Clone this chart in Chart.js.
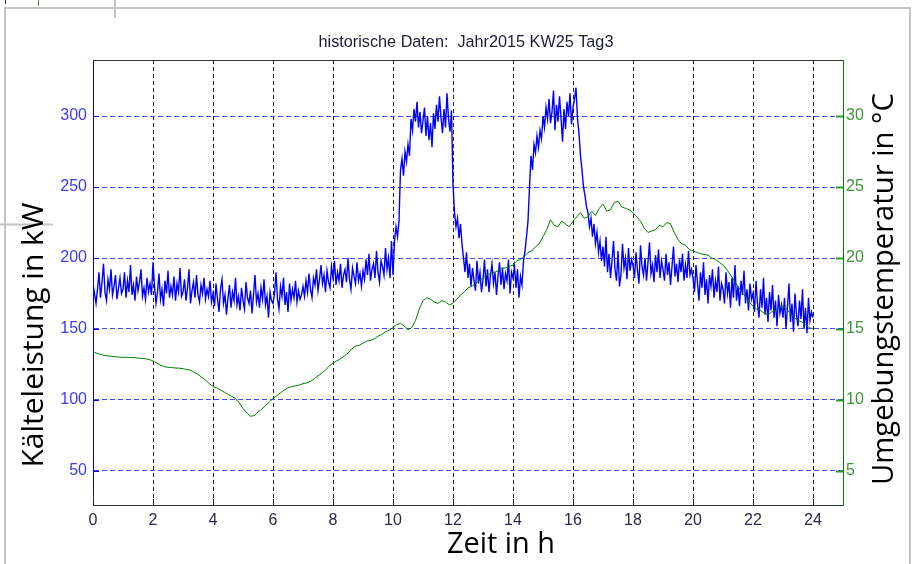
<!DOCTYPE html>
<html>
<head>
<meta charset="utf-8">
<script src="https://cdn.jsdelivr.net/npm/chart.js@4"></script>
<style>
  html, body { margin: 0; padding: 0; background: #fff; }
  canvas { display: block; }
</style>
</head>
<body>
<canvas id="ch" width="913" height="564"></canvas>
<script>
// Kälteleistung in kW, one value every 0.05 h (3 min), 0 h .. 24 h
const LOAD_STEP_H = 0.05;
const loadKW = [
  182,175,168,178,190,172,183,196,176,170,185,178,192,174,180,188,171,179,186,175,
  178,190,172,184,176,195,174,181,170,187,177,183,192,173,179,171,186,176,182,174,
  197,180,168,176,189,171,178,166,184,175,191,172,180,174,187,170,182,176,193,173,
  176,185,170,179,192,168,177,183,172,188,174,169,181,175,186,171,178,173,184,169,
  175,166,182,171,162,178,185,168,174,160,172,181,165,176,170,186,167,173,163,179,
  170,164,183,172,168,177,161,174,188,169,175,165,179,171,185,167,173,158,176,170,
  168,175,190,171,164,180,173,186,167,176,162,182,170,178,172,184,169,177,171,174,
  180,173,184,176,189,178,172,186,181,192,177,185,195,182,188,176,191,183,179,194,
  186,198,181,190,184,196,179,188,192,183,200,185,178,193,187,182,197,184,189,180,
  191,185,199,188,203,184,192,196,186,205,190,183,198,194,188,207,192,200,186,212,
  188,212,222,215,226,262,270,258,275,268,280,272,298,290,305,296,310,292,303,288,
  297,306,286,300,283,295,278,302,291,308,296,314,299,288,305,292,316,298,289,304,
  252,232,222,228,214,224,210,200,190,204,186,196,180,193,184,177,198,182,190,176,
  185,199,180,192,176,188,196,182,190,174,187,197,181,193,178,189,184,199,175,190,
  186,194,179,192,172,187,181,198,205,215,226,250,272,262,280,274,286,278,290,284,
  300,292,306,298,312,295,303,318,290,308,296,314,299,282,305,291,310,300,316,294,
  306,312,320,298,288,272,262,250,244,236,232,222,228,215,224,210,218,204,212,198,
  208,194,215,190,203,186,198,212,192,184,205,180,188,210,193,200,185,207,191,199,
  195,186,204,191,182,209,194,188,200,184,197,211,189,195,183,202,190,206,186,198,
  192,184,203,188,197,181,194,208,187,196,183,199,190,203,184,195,186,205,188,192,
  186,176,195,182,170,190,179,197,174,185,168,188,180,192,172,184,176,194,170,182,
  178,168,190,175,183,165,186,172,195,170,180,166,184,174,191,168,178,163,182,171,
  175,162,184,168,158,178,165,186,160,172,155,176,163,181,158,170,152,174,161,167,
  158,172,150,166,182,155,168,148,175,160,152,170,157,178,150,165,147,172,156,162,
  158
];

// Umgebungstemperatur in °C, one value every 0.125 h
const TEMP_STEP_H = 0.125;
const tempC = [
  13.4,13.3,13.2,13.15,13.1,13.07,13.05,13.02,13.0,13.0,13.0,12.98,12.95,12.93,12.9,12.85,12.75,
  12.6,12.45,12.35,12.3,12.28,12.25,12.24,12.2,12.15,12.1,11.95,11.8,11.6,11.4,11.15,10.95,
  10.85,10.7,10.55,10.4,10.25,10.1,9.8,9.4,9.1,8.85,8.9,9.15,9.35,9.6,9.85,10.1,
  10.3,10.5,10.7,10.85,10.95,11.0,11.05,11.15,11.2,11.3,11.5,11.7,11.9,12.1,12.4,12.6,
  12.75,12.9,13.1,13.3,13.6,13.8,13.85,14.0,14.15,14.2,14.3,14.5,14.6,14.8,14.9,15.1,
  15.3,15.4,15.2,14.95,15.1,15.6,16.4,17.0,17.2,17.1,16.9,16.8,17.0,16.9,16.7,16.8,
  17.1,17.4,17.6,17.9,18.0,18.2,18.4,18.6,18.8,18.9,19.0,19.1,19.3,19.3,19.4,19.5,
  19.8,19.9,20.1,20.4,20.5,20.8,21.0,21.5,22.0,22.7,22.3,22.2,22.6,22.4,22.2,22.6,
  22.9,23.2,22.8,22.9,23.3,23.0,23.5,23.8,23.3,23.4,23.9,24.0,23.6,23.5,23.4,23.2,
  22.9,22.6,22.1,21.8,21.9,22.0,22.3,22.2,22.5,22.4,21.8,21.3,21.0,20.9,20.6,20.5,
  20.4,20.3,20.25,20.2,20.0,19.9,19.7,19.5,19.2,18.8,18.4,18.0,17.6,17.3,16.9,16.6,
  16.4,16.3,16.1,16.0,16.2,16.3,16.5,16.6,16.4,16.1,15.8,15.6,15.5,15.3,15.1,15.0
];

const hourTicks = [0, 2, 4, 6, 8, 10, 12, 14, 16, 18, 20, 22, 24];
const loadTicks = [50, 100, 150, 200, 250, 300];
const tempTicks = [5, 10, 15, 20, 25, 30];

const titleText = 'historische Daten:  Jahr2015 KW25 Tag3';
const xTitle = 'Zeit in h';
const yTitle = 'Kälteleistung in kW';
const y2Title = 'Umgebungstemperatur in °C';

const BLUE = '#0000ff';
const GREEN = '#008000';
const TICK_FONT = { family: 'Arial, "Liberation Sans"', size: 16 };

let fitSize = (ctx, text, family, width) => {
    ctx.font = '100px ' + family;
    return 100 * width / ctx.measureText(text).width;
};

let deco = {
    id: 'deco',
    beforeDraw(chart) {
        let ctx = chart.ctx;
        ctx.save();
        ctx.fillStyle = '#fff';
        ctx.fillRect(0, 0, chart.width, chart.height);
        ctx.restore();
    },
    afterDraw(chart) {
        let ctx = chart.ctx;
        let a = chart.chartArea;
        let sx = chart.scales.x, sy = chart.scales.y, sy2 = chart.scales.y2;
        ctx.save();

        // window frame and stray bits of the screenshot
        ctx.strokeStyle = '#c4c4c4';
        ctx.lineWidth = 2;
        ctx.beginPath();
        ctx.moveTo(5, 564); ctx.lineTo(5, 8); ctx.lineTo(910, 8); ctx.lineTo(910, 564);
        ctx.moveTo(115, 0); ctx.lineTo(115, 18);
        ctx.moveTo(0, 224.5); ctx.lineTo(53, 224.5);
        ctx.stroke();
        ctx.lineWidth = 1;
        ctx.strokeStyle = '#333';
        ctx.beginPath(); ctx.moveTo(5.5, 0); ctx.lineTo(5.5, 4); ctx.stroke();
        ctx.strokeStyle = '#3a9a3a';
        ctx.beginPath(); ctx.moveTo(38.5, 0); ctx.lineTo(38.5, 6); ctx.stroke();

        // top border of the axes box
        ctx.strokeStyle = '#333';
        ctx.beginPath();
        ctx.moveTo(a.left, a.top + 0.5); ctx.lineTo(a.right, a.top + 0.5);
        ctx.stroke();
        // bottom end of left axis is black
        ctx.beginPath();
        ctx.moveTo(a.left + 0.5, a.bottom - 10); ctx.lineTo(a.left + 0.5, a.bottom);
        ctx.stroke();

        // inner tick marks
        ctx.strokeStyle = '#222';
        hourTicks.forEach(h => {
            let x = Math.round(sx.getPixelForValue(h)) + 0.5;
            ctx.beginPath(); ctx.moveTo(x, a.bottom); ctx.lineTo(x, a.bottom - 6); ctx.stroke();
        });
        ctx.strokeStyle = BLUE;
        loadTicks.forEach(v => {
            let y = Math.round(sy.getPixelForValue(v)) + 0.5;
            ctx.beginPath(); ctx.moveTo(a.left, y); ctx.lineTo(a.left + 6, y); ctx.stroke();
        });
        ctx.strokeStyle = '#2f9a2f';
        ctx.lineWidth = 2;
        tempTicks.forEach(v => {
            let y = Math.round(sy2.getPixelForValue(v)) + 0.5;
            ctx.beginPath(); ctx.moveTo(a.right - 7, y); ctx.lineTo(a.right, y); ctx.stroke();
        });

        // title
        let fam = 'Arial, "Liberation Sans"';
        ctx.fillStyle = '#1c1c38';
        ctx.textAlign = 'center';
        ctx.textBaseline = 'alphabetic';
        ctx.font = fitSize(ctx, titleText, fam, 295).toFixed(2) + 'px ' + fam;
        ctx.fillText(titleText, 466, 47);

        // axis titles
        let big = '"Open Sans", "Noto Sans", sans-serif';
        ctx.fillStyle = '#000';
        ctx.font = fitSize(ctx, xTitle, big, 108).toFixed(2) + 'px ' + big;
        ctx.fillText(xTitle, 501, 553);

        ctx.save();
        ctx.translate(43, 335);
        ctx.rotate(-Math.PI / 2);
        ctx.font = fitSize(ctx, yTitle, big, 265).toFixed(2) + 'px ' + big;
        ctx.fillText(yTitle, 0, 0);
        ctx.restore();

        ctx.save();
        ctx.translate(893, 289);
        ctx.rotate(-Math.PI / 2);
        ctx.font = fitSize(ctx, y2Title, big, 392).toFixed(2) + 'px ' + big;
        ctx.fillText(y2Title, 0, 0);
        ctx.restore();

        ctx.restore();
    }
};

let loadPoints = loadKW.map((v, i) => ({ x: i * LOAD_STEP_H, y: v }));
let tempPoints = tempC.map((v, i) => ({ x: i * TEMP_STEP_H, y: v }));

let chart = new Chart('ch', {
    type: 'line',
    data: {
        datasets: [{
            label: yTitle,
            data: loadPoints,
            yAxisID: 'y',
            borderColor: BLUE,
            borderWidth: 1.4,
            pointRadius: 0,
            tension: 0,
            order: 2
        }, {
            label: y2Title,
            data: tempPoints,
            yAxisID: 'y2',
            borderColor: GREEN,
            borderWidth: 1,
            pointRadius: 0,
            tension: 0,
            order: 1
        }]
    },
    options: {
        responsive: false,
        devicePixelRatio: 1,
        animation: false,
        layout: { padding: { top: 60, left: 0, right: 0, bottom: 0 } },
        plugins: {
            legend: { display: false },
            tooltip: { enabled: false },
            title: { display: false }
        },
        scales: {
            x: {
                type: 'linear',
                min: 0,
                max: 25,
                afterBuildTicks: s => { s.ticks = hourTicks.map(v => ({ value: v })); },
                afterFit: s => { s.height = 59; },
                ticks: { color: '#28284a', font: TICK_FONT, padding: 6, maxRotation: 0 },
                grid: {
                    drawTicks: false,
                    color: c => c.tick && c.tick.value === 0 ? 'rgba(0,0,0,0)' : '#222',
                    lineWidth: 1
                },
                border: { color: '#333', width: 1, dash: [4, 3] }
            },
            y: {
                type: 'linear',
                position: 'left',
                min: 26,
                max: 339.5,
                afterBuildTicks: s => { s.ticks = loadTicks.map(v => ({ value: v })); },
                afterFit: s => { s.width = 93; },
                ticks: { color: '#3b3bf2', font: TICK_FONT, padding: 6 },
                grid: { drawTicks: false, color: '#4646ff', lineWidth: 1 },
                border: { color: BLUE, width: 1, dash: [5, 3] }
            },
            y2: {
                type: 'linear',
                position: 'right',
                min: 2.6,
                max: 33.95,
                afterBuildTicks: s => { s.ticks = tempTicks.map(v => ({ value: v })); },
                afterFit: s => { s.width = 70; },
                ticks: { color: '#3a963a', font: TICK_FONT, padding: 3 },
                grid: { drawOnChartArea: false, drawTicks: false },
                border: { color: GREEN, width: 1 }
            }
        }
    },
    plugins: [deco]
});
</script>
</body>
</html>
